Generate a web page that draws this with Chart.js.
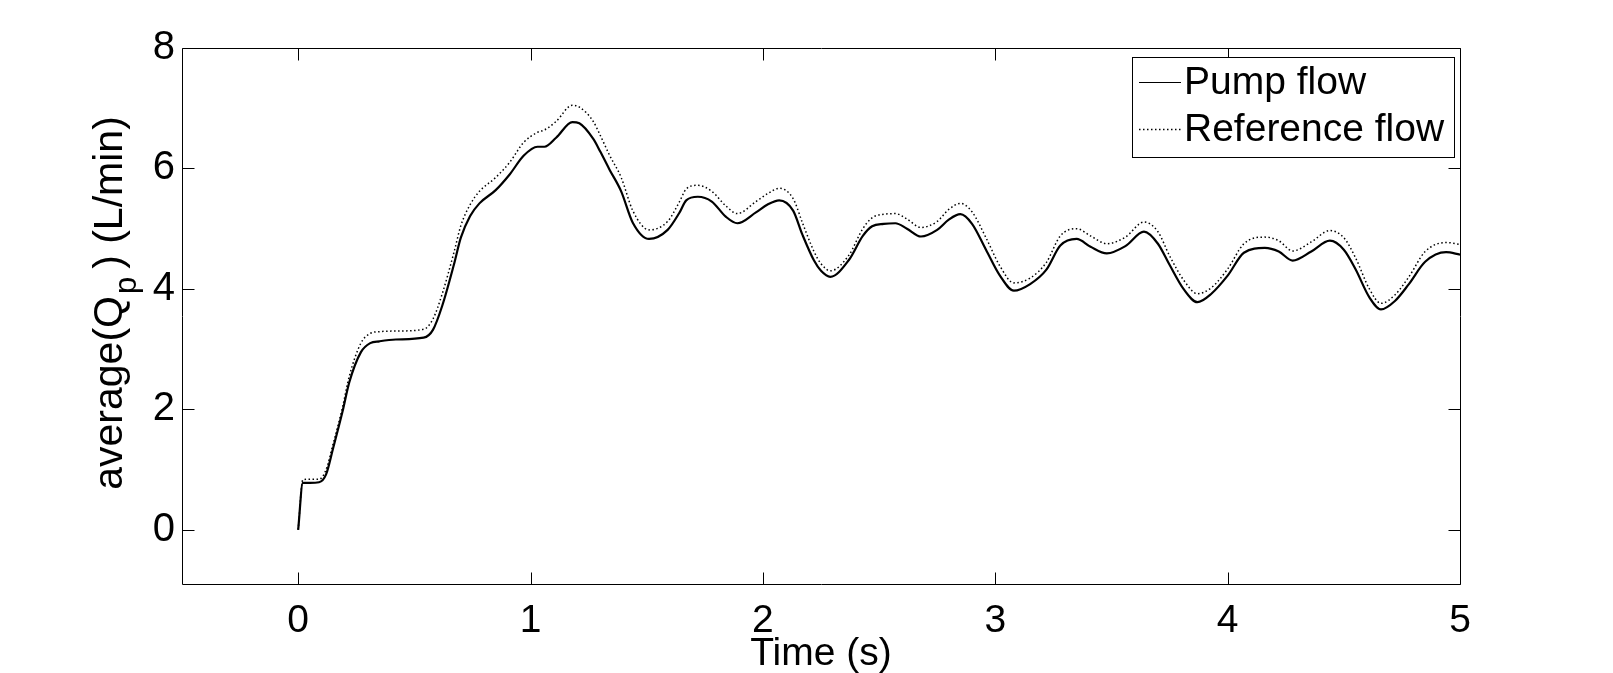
<!DOCTYPE html>
<html>
<head>
<meta charset="utf-8">
<script src="https://cdn.jsdelivr.net/npm/chart.js@4.4.0/dist/chart.umd.min.js"></script>
<style>
body { margin: 0; background: #fff; }
canvas { display: block; }
</style>
</head>
<body>
<canvas id="canvas" width="1613" height="673"></canvas>
<script>
// values
var time = [0, 0.02, 0.05, 0.09, 0.12, 0.15, 0.19, 0.22, 0.27, 0.31,
    0.35, 0.42, 0.54, 0.58, 0.62, 0.67, 0.70, 0.74, 0.78, 0.85,
    0.91, 0.97, 1.03, 1.06, 1.11, 1.18, 1.21, 1.27, 1.30, 1.34,
    1.39, 1.44, 1.51, 1.59, 1.64, 1.67, 1.72, 1.78, 1.84, 1.89,
    1.97, 2.02, 2.07, 2.13, 2.17, 2.22, 2.25, 2.29, 2.37, 2.43,
    2.47, 2.52, 2.57, 2.62, 2.68, 2.75, 2.80, 2.85, 2.90, 2.96,
    3.02, 3.08, 3.15, 3.22, 3.28, 3.35, 3.41, 3.48, 3.56, 3.64,
    3.70, 3.75, 3.81, 3.87, 3.93, 4.00, 4.07, 4.16, 4.22, 4.28,
    4.36, 4.44, 4.50, 4.55, 4.61, 4.66, 4.72, 4.78, 4.85, 4.94, 5.00];

var pumpFlow = [0, 0.78, 0.78, 0.79, 0.92, 1.35, 1.95, 2.45, 2.95, 3.10,
    3.13, 3.16, 3.19, 3.32, 3.72, 4.40, 4.85, 5.21, 5.42, 5.64,
    5.90, 6.21, 6.36, 6.36, 6.51, 6.77, 6.75, 6.49, 6.28, 5.98,
    5.62, 5.10, 4.83, 4.98, 5.26, 5.47, 5.53, 5.45, 5.20, 5.09,
    5.27, 5.40, 5.47, 5.30, 4.90, 4.47, 4.30, 4.20, 4.48, 4.88,
    5.04, 5.08, 5.09, 5.00, 4.87, 4.98, 5.15, 5.24, 5.08, 4.65,
    4.22, 3.97, 4.08, 4.32, 4.72, 4.83, 4.70, 4.59, 4.71, 4.95,
    4.75, 4.40, 4.00, 3.78, 3.92, 4.22, 4.60, 4.68, 4.62, 4.47,
    4.62, 4.80, 4.65, 4.33, 3.86, 3.66, 3.80, 4.08, 4.45, 4.61, 4.57];

var referenceFlow = [0, 0.83, 0.84, 0.84, 1.00, 1.42, 2.02, 2.55, 3.10, 3.26,
    3.29, 3.30, 3.33, 3.50, 3.92, 4.60, 5.05, 5.40, 5.62, 5.85,
    6.10, 6.43, 6.60, 6.64, 6.78, 7.05, 7.02, 6.78, 6.55, 6.22,
    5.85, 5.30, 4.98, 5.12, 5.44, 5.66, 5.72, 5.62, 5.38, 5.25,
    5.45, 5.58, 5.67, 5.50, 5.10, 4.62, 4.42, 4.30, 4.56, 5.00,
    5.18, 5.24, 5.25, 5.16, 5.02, 5.12, 5.32, 5.42, 5.28, 4.85,
    4.38, 4.10, 4.18, 4.44, 4.88, 5.00, 4.88, 4.75, 4.86, 5.11,
    4.95, 4.55, 4.15, 3.92, 4.02, 4.33, 4.75, 4.86, 4.80, 4.63,
    4.78, 4.97, 4.85, 4.52, 4.00, 3.76, 3.90, 4.20, 4.62, 4.77, 4.74];

var xTicks = [0, 1, 2, 3, 4, 5];
var yTicks = [0, 2, 4, 6, 8];
var seriesNames = ['Pump flow', 'Reference flow'];
var xTitle = 'Time (s)';
var yTitleParts = ['average(Q', 'p', ') (L/min)']; // middle part is a subscript

var FONT = '"Liberation Sans", Arial, sans-serif';
var FSIZE = 39;

function points(ys) {
    return time.map(function (t, i) { return {x: t, y: ys[i]}; });
}

// matlab style box, inward ticks, legend and y title
var matlabAxes = {
    id: 'matlabAxes',
    afterDatasetsDraw: function (chart) {
        var ctx = chart.ctx, a = chart.chartArea;
        var xs = chart.scales.x, ys = chart.scales.y;
        var L = Math.round(a.left) + 0.5, R = Math.round(a.right) + 0.5;
        var T = Math.round(a.top) + 0.5, B = Math.round(a.bottom) + 0.5;
        var tl = 12;
        ctx.save();
        ctx.strokeStyle = '#000';
        ctx.lineWidth = 1;
        ctx.setLineDash([]);
        ctx.beginPath();
        ctx.rect(L, T, R - L, B - T);
        xTicks.forEach(function (v) {
            var px = Math.round(xs.getPixelForValue(v)) + 0.5;
            ctx.moveTo(px, B); ctx.lineTo(px, B - tl);
            ctx.moveTo(px, T); ctx.lineTo(px, T + tl);
        });
        yTicks.forEach(function (v) {
            var py = Math.round(ys.getPixelForValue(v)) + 0.5;
            ctx.moveTo(L, py); ctx.lineTo(L + tl, py);
            ctx.moveTo(R, py); ctx.lineTo(R - tl, py);
        });
        ctx.stroke();

        // legend box
        var bx = 1132.5, by = 57.5, bw = 322, bh = 100;
        ctx.fillStyle = '#fff';
        ctx.fillRect(bx, by, bw, bh);
        ctx.strokeRect(bx, by, bw, bh);
        var rows = [82, 129];
        chart.data.datasets.forEach(function (ds, i) {
            ctx.beginPath();
            ctx.lineWidth = ds.borderDash ? 1.5 : 1.2;
            ctx.setLineDash(ds.borderDash || []);
            ctx.moveTo(1139, rows[i] + 0.5);
            ctx.lineTo(1181, rows[i] + 0.5);
            ctx.stroke();
            ctx.setLineDash([]);
            ctx.fillStyle = '#000';
            ctx.font = FSIZE + 'px ' + FONT;
            ctx.textAlign = 'left';
            ctx.textBaseline = 'middle';
            ctx.fillText(ds.label, 1184, rows[i] + 1);
        });

        // y title with subscript
        var big = '41px ' + FONT, small = '31px ' + FONT;
        ctx.font = big;
        var w0 = ctx.measureText(yTitleParts[0]).width;
        var w2 = ctx.measureText(yTitleParts[2]).width;
        ctx.font = small;
        var w1 = ctx.measureText(yTitleParts[1]).width + 10;
        var total = w0 + w1 + w2;
        ctx.translate(122, 303);
        ctx.rotate(-Math.PI / 2);
        ctx.textBaseline = 'alphabetic';
        ctx.textAlign = 'left';
        ctx.fillStyle = '#000';
        var x0 = -total / 2;
        ctx.font = big;
        ctx.fillText(yTitleParts[0], x0, 0);
        ctx.font = small;
        ctx.fillText(yTitleParts[1], x0 + w0 + 2, 14);
        ctx.font = big;
        ctx.fillText(yTitleParts[2], x0 + w0 + w1, 0);
        ctx.restore();
    }
};

var ctx = document.getElementById('canvas').getContext('2d');
var myChart = new Chart(ctx, {
    type: 'line',
    data: {
        datasets: [
            {
                label: seriesNames[0],
                data: points(pumpFlow),
                borderColor: '#000',
                backgroundColor: 'transparent',
                borderWidth: 2.2,
                pointRadius: 0,
                cubicInterpolationMode: 'monotone'
            },
            {
                label: seriesNames[1],
                data: points(referenceFlow),
                borderColor: '#000',
                backgroundColor: 'transparent',
                borderWidth: 1.5,
                borderDash: [1.5, 2.5],
                pointRadius: 0,
                cubicInterpolationMode: 'monotone'
            }
        ]
    },
    options: {
        responsive: false,
        animation: false,
        layout: { padding: { top: 48, right: 153, left: 0, bottom: 0 } },
        plugins: {
            legend: { display: false },
            tooltip: { enabled: false }
        },
        scales: {
            x: {
                type: 'linear',
                min: -0.5,
                max: 5,
                grid: { display: false, drawTicks: false },
                border: { display: false },
                afterBuildTicks: function (s) { s.ticks = xTicks.map(function (v) { return {value: v}; }); },
                afterFit: function (s) { s.height = 89; },
                ticks: { color: '#000', font: { family: FONT, size: 39 }, padding: 14, maxRotation: 0 },
                title: {
                    display: true, text: xTitle, color: '#000',
                    font: { family: FONT, size: FSIZE }, padding: { top: 0, bottom: -5 }
                }
            },
            y: {
                type: 'linear',
                min: -0.9,
                max: 8,
                grid: { display: false, drawTicks: false },
                border: { display: false },
                afterBuildTicks: function (s) { s.ticks = yTicks.map(function (v) { return {value: v}; }); },
                afterFit: function (s) { s.width = 182; },
                ticks: { color: '#000', font: { family: FONT, size: 40 }, padding: 7 }
            }
        }
    },
    plugins: [matlabAxes]
});
</script>
</body>
</html>
